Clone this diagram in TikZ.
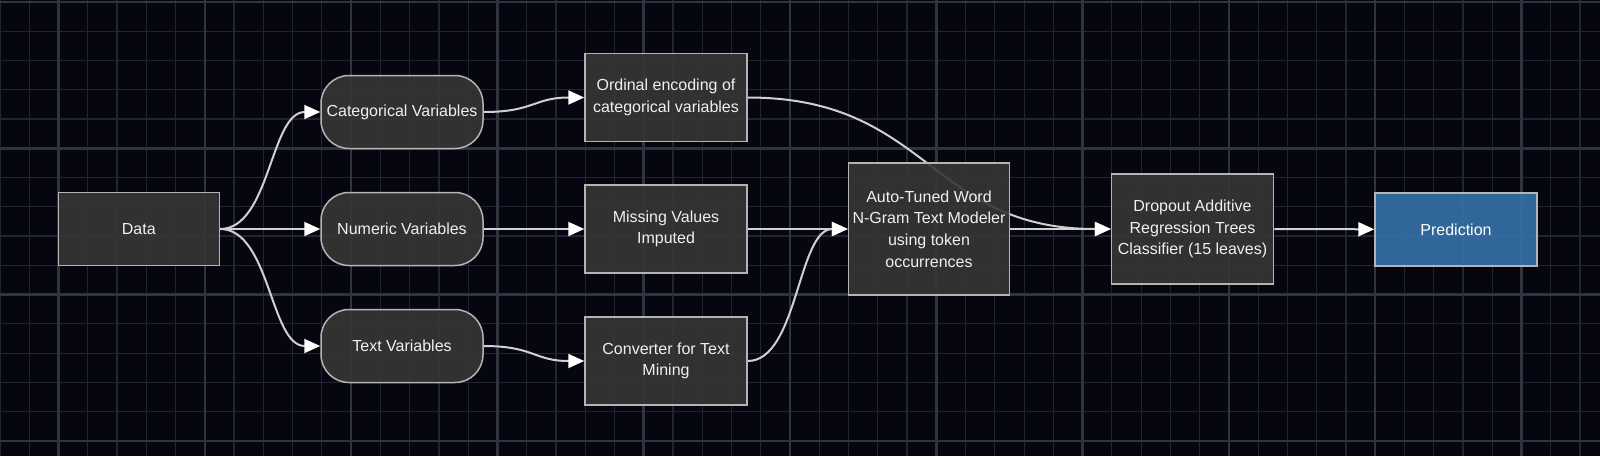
\documentclass[tikz,border=0pt]{standalone}
\usepackage{fontspec}
\setmainfont{Liberation Sans}
\usetikzlibrary{arrows.meta,calc}
\definecolor{bgc}{HTML}{05060F}
\definecolor{minorc}{HTML}{22252F}
\definecolor{majorc}{HTML}{30343E}
\definecolor{nodefill}{HTML}{363636}
\definecolor{nodeline}{HTML}{B4B4B4}
\definecolor{edgec}{HTML}{D0D0D0}
\definecolor{predfill}{HTML}{3571A9}
\definecolor{txtc}{HTML}{F0F0F0}
\pgfdeclarelayer{gridlayer}
\pgfdeclarelayer{edgelayer}
\pgfsetlayers{gridlayer,edgelayer,main}
\tikzset{
  box/.style={draw=nodeline, line width=1.5pt, fill=nodefill, fill opacity=0.9, text opacity=1,
    text=txtc, align=center, inner sep=0pt, font=\fontsize{16}{21.7}\selectfont},
  pill/.style={box, rounded corners=28pt},
  predbox/.style={box, fill=predfill, text=white},
  edge/.style={draw=edgec, line width=2pt, -{Triangle[length=16pt,width=14pt,fill=white,color=white]}}
}
\begin{document}
\begin{tikzpicture}[x=1pt,y=-1pt]
\useasboundingbox (0,0) rectangle (1600,456);
\begin{pgfonlayer}{gridlayer}
\fill[bgc] (0,0) rectangle (1600,456);
\foreach \j in {0,...,54} {\draw[minorc, line width=1.2pt] ({29.26*\j},0) -- ({29.26*\j},456);}
\foreach \j in {0,...,15} {\draw[minorc, line width=1.2pt] (0,{2+29.26*\j}) -- (1600,{2+29.26*\j});}
\foreach \j in {2,7,...,52} {\draw[majorc, line width=2.5pt] ({29.26*\j},0) -- ({29.26*\j},456);}
\foreach \j in {0,5,10,15} {\draw[majorc, line width=2.5pt] (0,{2+29.26*\j}) -- (1600,{2+29.26*\j});}
\end{pgfonlayer}

\node[box, minimum width=161pt, minimum height=73pt] (data) at (138.8,229) {Data};
\node[pill, minimum width=162pt, minimum height=73pt] (cat) at (402,112) {Categorical Variables};
\node[pill, minimum width=162pt, minimum height=73pt] (num) at (402,229) {Numeric Variables};
\node[pill, minimum width=162pt, minimum height=73pt] (txt) at (402,346) {Text Variables};
\node[box, minimum width=162pt, minimum height=88pt] (ord) at (666,97.5) {Ordinal encoding of\\categorical variables};
\node[box, minimum width=162pt, minimum height=88pt] (miss) at (666,229) {Missing Values\\Imputed};
\node[box, minimum width=162pt, minimum height=88pt] (conv) at (666,361) {Converter for Text\\Mining};
\node[box, minimum width=161pt, minimum height=132pt] (auto) at (929,229) {Auto-Tuned Word\\N-Gram Text Modeler\\using token\\occurrences};
\node[box, minimum width=162pt, minimum height=110pt] (drop) at (1192.5,229) {Dropout Additive\\Regression Trees\\Classifier (15 leaves)};
\node[predbox, minimum width=162pt, minimum height=73pt] (pred) at (1456,229.3) {Prediction};

\begin{pgfonlayer}{edgelayer}
\coordinate (m1) at ($(data.east)!0.5!(cat.west)$);
\draw[edge] (data.east) .. controls (m1 |- data.east) and (m1 |- cat.west) .. (cat.west);
\draw[edge] (data.east) -- (num.west);
\coordinate (m2) at ($(data.east)!0.5!(txt.west)$);
\draw[edge] (data.east) .. controls (m2 |- data.east) and (m2 |- txt.west) .. (txt.west);
\coordinate (m3) at ($(cat.east)!0.5!(ord.west)$);
\draw[edge] (cat.east) .. controls (m3 |- cat.east) and (m3 |- ord.west) .. (ord.west);
\draw[edge] (num.east) -- (miss.west);
\coordinate (m4) at ($(txt.east)!0.5!(conv.west)$);
\draw[edge] (txt.east) .. controls (m4 |- txt.east) and (m4 |- conv.west) .. (conv.west);
\draw[edge] (miss.east) -- (auto.west);
\coordinate (m5) at ($(conv.east)!0.5!(auto.west)$);
\draw[edge] (conv.east) .. controls (m5 |- conv.east) and (m5 |- auto.west) .. (auto.west);
\coordinate (m6) at ($(ord.east)!0.5!(drop.west)$);
\draw[edge] (ord.east) .. controls (m6 |- ord.east) and (m6 |- drop.west) .. (drop.west);
\draw[edge] (auto.east) -- (drop.west);
\draw[edge] (drop.east) -- (pred.west);
\end{pgfonlayer}
\end{tikzpicture}
\end{document}
